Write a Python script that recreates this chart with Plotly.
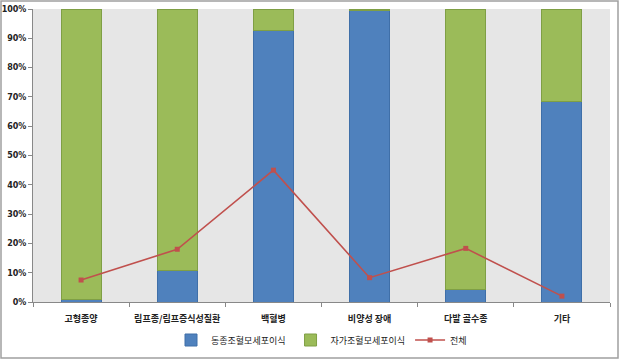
import plotly.graph_objects as go

categories = ["고형종양", "림프종/림프증식성질환", "백혈병", "비양성 장애", "다발 골수종", "기타"]
allo = [0.010, 0.108, 0.925, 0.995, 0.041, 0.686]
auto = [0.990, 0.892, 0.075, 0.005, 0.959, 0.314]
total = [0.075, 0.180, 0.450, 0.083, 0.183, 0.020]

FONT = "Noto Sans CJK KR"

fig = go.Figure()
fig.add_trace(go.Bar(
    x=categories, y=allo, name="동종조혈모세포이식",
    marker=dict(color="#4f81bd", line=dict(color="#3f6fa8", width=1)),
))
fig.add_trace(go.Bar(
    x=categories, y=auto, name="자가조혈모세포이식",
    marker=dict(color="#9bbb59", line=dict(color="#7f9f45", width=1)),
))
fig.add_trace(go.Scatter(
    x=categories, y=total, name="전체", mode="lines+markers",
    line=dict(color="#c0504d", width=1.6),
    marker=dict(symbol="square", size=5, color="#c0504d"),
))

W, H = 620, 360
L, R, T, B = 33, 10, 9, 58
pw, ph = W - L - R, H - T - B

fig.update_layout(
    width=W, height=H,
    barmode="stack", bargap=0.585,
    margin=dict(l=L, r=R, t=T, b=B, autoexpand=False),
    paper_bgcolor="white", plot_bgcolor="#e6e6e6",
    font=dict(family=FONT, size=10, color="#222222"),
    showlegend=True,
    legend=dict(
        orientation="h", x=0.5, xanchor="center",
        y=(T + ph - 340) / ph, yanchor="middle",
        font=dict(size=9, family=FONT), traceorder="normal",
        itemwidth=30, tracegroupgap=0,
    ),
    xaxis=dict(
        automargin=False, tickangle=0, ticklabelstandoff=8,
        showgrid=False, showline=True, linecolor="#888888", linewidth=1,
        ticks="outside", tickson="boundaries", ticklen=4, tickcolor="#888888",
        tickfont=dict(size=9, family=FONT, color="#222222", weight="bold"),
    ),
    yaxis=dict(
        automargin=False,
        range=[0, 1], dtick=0.1, tickformat=".0%",
        showgrid=False, showline=True, linecolor="#888888", linewidth=1,
        ticks="outside", ticklen=4, tickcolor="#888888",
        tickfont=dict(size=8, family="DejaVu Sans", color="#222222", weight="bold"),
        zeroline=False,
    ),
    shapes=[dict(
        type="rect", xref="paper", yref="paper",
        x0=(1 - L) / pw, x1=(W - 2 - L) / pw,
        y0=(T + ph - (H - 2)) / ph, y1=(T + ph - 1) / ph,
        line=dict(color="#a0a0a0", width=1.5), fillcolor="rgba(0,0,0,0)",
        layer="below",
    )],
)

fig.write_html("out.html")
